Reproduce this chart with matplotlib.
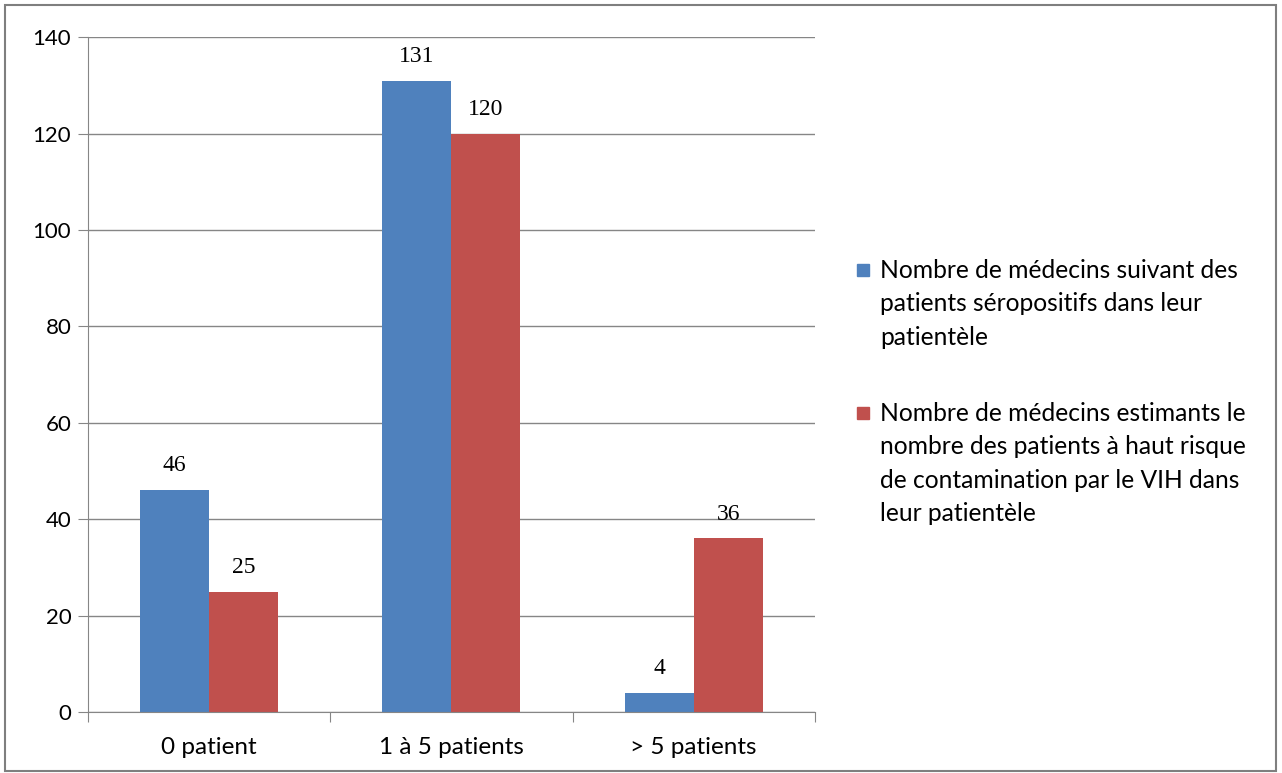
import matplotlib
matplotlib.use("Agg")
import matplotlib.pyplot as plt
import numpy as np
from matplotlib.patches import Rectangle

categories = ["0 patient", "1 à 5 patients", "> 5 patients"]
seropositifs = [46, 131, 4]
haut_risque = [25, 120, 36]
series_names = [
    "Nombre de médecins suivant des\npatients séropositifs dans leur\npatientèle",
    "Nombre de médecins estimants le\nnombre des patients à haut risque\nde contamination par le VIH dans\nleur patientèle",
]
colors = ["#4F81BD", "#C0504D"]

plt.rcParams["font.family"] = ["Lato", "DejaVu Sans"]

fig = plt.figure(figsize=(12.82, 7.73), dpi=100)
ax = fig.add_axes([0.0686, 0.0789, 0.567, 0.873])

x = np.arange(len(categories))
w = 0.285
b1 = ax.bar(x - w / 2, seropositifs, w, color=colors[0])
b2 = ax.bar(x + w / 2, haut_risque, w, color=colors[1])

for bars, vals in [(b1, seropositifs), (b2, haut_risque)]:
    for r, v in zip(bars, vals):
        ax.text(r.get_x() + r.get_width() / 2, v + 2.9, str(v), ha="center", va="bottom",
                fontsize=17, family="Liberation Serif")

ax.set_ylim(0, 140)
ax.set_yticks(range(0, 141, 20))
ax.set_xlim(-0.5, 2.5)
ax.yaxis.grid(True, color="#868686", lw=1)
ax.set_axisbelow(True)
ax.set_xticks([-0.5, 0.5, 1.5, 2.5])
ax.set_xticklabels([])
ax.set_xticks(x, minor=True)
ax.set_xticklabels(categories, minor=True)
ax.tick_params(axis="x", which="minor", length=0, labelsize=17.5, pad=18)
ax.tick_params(axis="x", which="major", length=7, color="#868686")
ax.tick_params(axis="y", length=7, color="#868686", labelsize=16, pad=5)
for s in ["top", "right"]:
    ax.spines[s].set_visible(False)
for s in ["left", "bottom"]:
    ax.spines[s].set_color("#868686")

# legend drawn by hand so the square sits on the first line
W, H = 1282, 773
legend_tops = [259, 402]
for name, c, top in zip(series_names, colors, legend_tops):
    fig.patches.append(Rectangle((857 / W, 1 - (top + 17) / H), 12 / W, 12 / H,
                                 transform=fig.transFigure, color=c))
    fig.text(880 / W, 1 - top / H, name, ha="left", va="top", fontsize=17.7,
             linespacing=1.55)

fig.patches.append(Rectangle((0.004, 0.003), 0.991, 0.991, transform=fig.transFigure,
                             fill=False, edgecolor="#7f7f7f", lw=1.5))

fig.savefig("out.png", dpi=100)
